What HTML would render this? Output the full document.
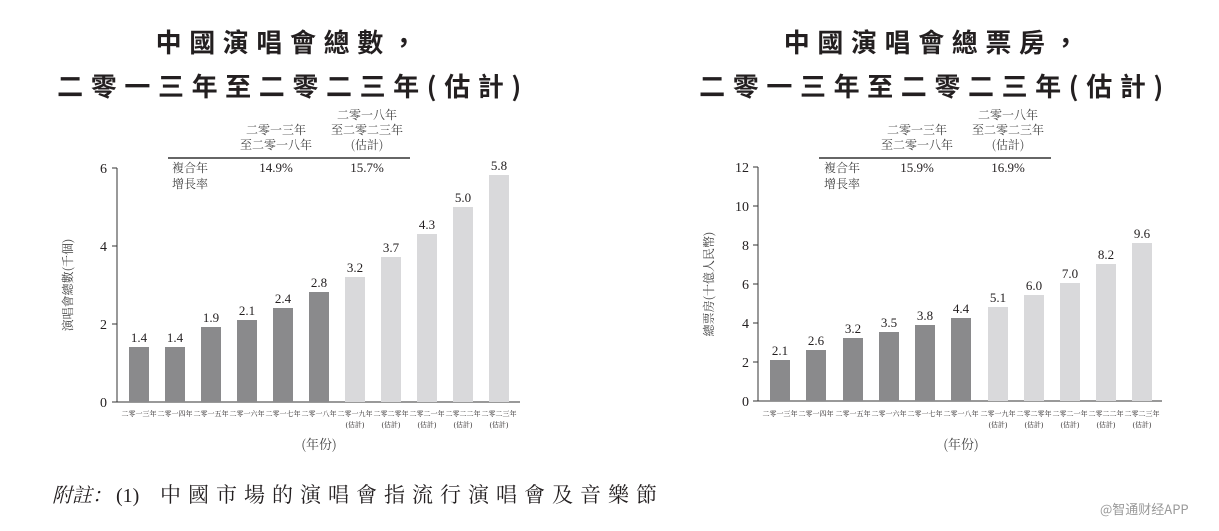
<!DOCTYPE html>
<html><head><meta charset="utf-8"><style>
body{margin:0;background:#fff;}
svg text{font-family:"Liberation Serif","Noto Serif CJK SC","Noto Sans CJK TC",serif;fill:#231f20;}
.t{font-family:"Noto Sans CJK TC","Noto Sans CJK SC",sans-serif;font-weight:bold;font-size:26px;letter-spacing:7.6px;}
.c{font-family:"Noto Serif CJK SC","Noto Sans CJK TC",serif;font-size:12px;fill:#444;}
.x{font-family:"Noto Sans CJK TC",sans-serif;font-size:7px;fill:#555;}
.n{font-size:14px;}
.v{font-size:13px;}
</style></head><body>
<svg width="1219" height="526" viewBox="0 0 1219 526" xmlns="http://www.w3.org/2000/svg">
<text class="t" x="290" y="52" text-anchor="middle">中國演唱會總數，</text>
<text class="t" x="293" y="96" text-anchor="middle">二零一三年至二零二三年(估計)</text>
<text class="t" x="935" y="52" text-anchor="middle">中國演唱會總票房，</text>
<text class="t" x="935" y="96" text-anchor="middle">二零一三年至二零二三年(估計)</text>

<g>
<text class="c" x="367" y="119" text-anchor="middle">二零一八年</text>
<text class="c" x="276" y="134" text-anchor="middle">二零一三年</text>
<text class="c" x="367" y="134" text-anchor="middle">至二零二三年</text>
<text class="c" x="276" y="149" text-anchor="middle">至二零一八年</text>
<text class="c" x="367" y="149" text-anchor="middle">(估計)</text>
<line x1="168" y1="158" x2="410" y2="158" stroke="#666" stroke-width="2"/>
<text class="c" x="172" y="172">複合年</text>
<text class="c" x="172" y="188">增長率</text>
<text class="v" x="276" y="172" text-anchor="middle">14.9%</text>
<text class="v" x="367" y="172" text-anchor="middle">15.7%</text>

<line x1="117" y1="168" x2="117" y2="402" stroke="#333"/>
<line x1="117" y1="402" x2="520" y2="402" stroke="#333"/>
<g stroke="#333"><line x1="112" y1="168" x2="117" y2="168"/><line x1="112" y1="246" x2="117" y2="246"/><line x1="112" y1="324" x2="117" y2="324"/><line x1="112" y1="402" x2="117" y2="402"/></g>
<g class="n" text-anchor="end"><text x="107" y="173">6</text><text x="107" y="251">4</text><text x="107" y="329">2</text><text x="107" y="407">0</text></g>
<text class="c" transform="translate(72,285) rotate(-90)" text-anchor="middle" style="font-size:12px">演唱會總數(千個)</text>
<g fill="#8a8a8c">
<rect x="129" y="347" width="20" height="55"/><rect x="165" y="347" width="20" height="55"/><rect x="201" y="327" width="20" height="75"/><rect x="237" y="320" width="20" height="82"/><rect x="273" y="308" width="20" height="94"/><rect x="309" y="292" width="20" height="110"/>
</g>
<g fill="#d9d9db">
<rect x="345" y="277" width="20" height="125"/><rect x="381" y="257" width="20" height="145"/><rect x="417" y="234" width="20" height="168"/><rect x="453" y="207" width="20" height="195"/><rect x="489" y="175" width="20" height="227"/>
</g>
<g class="v" text-anchor="middle">
<text x="139" y="342">1.4</text><text x="175" y="342">1.4</text><text x="211" y="322">1.9</text><text x="247" y="315">2.1</text><text x="283" y="303">2.4</text><text x="319" y="287">2.8</text><text x="355" y="272">3.2</text><text x="391" y="252">3.7</text><text x="427" y="229">4.3</text><text x="463" y="202">5.0</text><text x="499" y="170">5.8</text>
</g>
<g class="x" text-anchor="middle">
<text x="139" y="416">二零一三年</text><text x="175" y="416">二零一四年</text><text x="211" y="416">二零一五年</text><text x="247" y="416">二零一六年</text><text x="283" y="416">二零一七年</text><text x="319" y="416">二零一八年</text><text x="355" y="416">二零一九年</text><text x="391" y="416">二零二零年</text><text x="427" y="416">二零二一年</text><text x="463" y="416">二零二二年</text><text x="499" y="416">二零二三年</text>
<text x="355" y="427">(估計)</text><text x="391" y="427">(估計)</text><text x="427" y="427">(估計)</text><text x="463" y="427">(估計)</text><text x="499" y="427">(估計)</text>
</g>
<text class="c" x="319" y="449" text-anchor="middle" style="font-size:13px">(年份)</text>
</g>

<g>
<text class="c" x="1008" y="119" text-anchor="middle">二零一八年</text>
<text class="c" x="917" y="134" text-anchor="middle">二零一三年</text>
<text class="c" x="1008" y="134" text-anchor="middle">至二零二三年</text>
<text class="c" x="917" y="149" text-anchor="middle">至二零一八年</text>
<text class="c" x="1008" y="149" text-anchor="middle">(估計)</text>
<line x1="819" y1="158" x2="1051" y2="158" stroke="#666" stroke-width="2"/>
<text class="c" x="824" y="172">複合年</text>
<text class="c" x="824" y="188">增長率</text>
<text class="v" x="917" y="172" text-anchor="middle">15.9%</text>
<text class="v" x="1008" y="172" text-anchor="middle">16.9%</text>

<line x1="758" y1="167" x2="758" y2="401" stroke="#333"/>
<line x1="758" y1="401" x2="1162" y2="401" stroke="#333"/>
<g stroke="#333">
<line x1="753" y1="167" x2="758" y2="167"/><line x1="753" y1="206" x2="758" y2="206"/><line x1="753" y1="245" x2="758" y2="245"/><line x1="753" y1="284" x2="758" y2="284"/><line x1="753" y1="323" x2="758" y2="323"/><line x1="753" y1="362" x2="758" y2="362"/><line x1="753" y1="401" x2="758" y2="401"/>
</g>
<g class="n" text-anchor="end"><text x="749" y="172">12</text><text x="749" y="211">10</text><text x="749" y="250">8</text><text x="749" y="289">6</text><text x="749" y="328">4</text><text x="749" y="367">2</text><text x="749" y="406">0</text></g>
<text class="c" transform="translate(713,284) rotate(-90)" text-anchor="middle" style="font-size:12px">總票房(十億人民幣)</text>
<g fill="#8a8a8c">
<rect x="770" y="360" width="20" height="41"/><rect x="806" y="350" width="20" height="51"/><rect x="843" y="338" width="20" height="63"/><rect x="879" y="332" width="20" height="69"/><rect x="915" y="325" width="20" height="76"/><rect x="951" y="318" width="20" height="83"/>
</g>
<g fill="#d9d9db">
<rect x="988" y="307" width="20" height="94"/><rect x="1024" y="295" width="20" height="106"/><rect x="1060" y="283" width="20" height="118"/><rect x="1096" y="264" width="20" height="137"/><rect x="1132" y="243" width="20" height="158"/>
</g>
<g class="v" text-anchor="middle">
<text x="780" y="355">2.1</text><text x="816" y="345">2.6</text><text x="853" y="333">3.2</text><text x="889" y="327">3.5</text><text x="925" y="320">3.8</text><text x="961" y="313">4.4</text><text x="998" y="302">5.1</text><text x="1034" y="290">6.0</text><text x="1070" y="278">7.0</text><text x="1106" y="259">8.2</text><text x="1142" y="238">9.6</text>
</g>
<g class="x" text-anchor="middle">
<text x="780" y="416">二零一三年</text><text x="816" y="416">二零一四年</text><text x="853" y="416">二零一五年</text><text x="889" y="416">二零一六年</text><text x="925" y="416">二零一七年</text><text x="961" y="416">二零一八年</text><text x="998" y="416">二零一九年</text><text x="1034" y="416">二零二零年</text><text x="1070" y="416">二零二一年</text><text x="1106" y="416">二零二二年</text><text x="1142" y="416">二零二三年</text>
<text x="998" y="427">(估計)</text><text x="1034" y="427">(估計)</text><text x="1070" y="427">(估計)</text><text x="1106" y="427">(估計)</text><text x="1142" y="427">(估計)</text>
</g>
<text class="c" x="961" y="449" text-anchor="middle" style="font-size:13px">(年份)</text>
</g>

<text x="52" y="502" style="font-size:20px;font-style:italic">附註：</text>
<text x="116" y="502" style="font-size:20px">(1)</text>
<text x="160" y="502" style="font-size:21px;letter-spacing:7px">中國市場的演唱會指流行演唱會及音樂節</text>
<text x="1100" y="514" style="font-size:13px;fill:#999;font-family:'Noto Sans CJK SC',sans-serif">@智通财经APP</text>
</svg>
</body></html>
